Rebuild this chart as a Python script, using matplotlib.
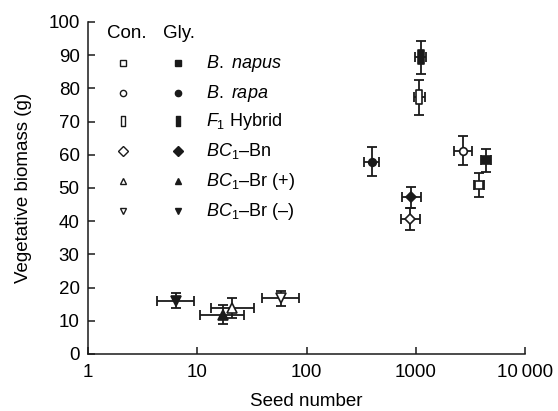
import numpy as np
import matplotlib
matplotlib.use("Agg")
import matplotlib.pyplot as plt
from matplotlib.path import Path
from matplotlib.ticker import FixedLocator, FixedFormatter, NullLocator

plt.rcParams["font.family"] = ["Liberation Sans", "DejaVu Sans"]
plt.rcParams["mathtext.fontset"] = "custom"
plt.rcParams["mathtext.rm"] = "Liberation Sans"
plt.rcParams["mathtext.it"] = "Liberation Sans:italic"

# groups: B. napus, B. rapa, F1 hybrid, BC1-Bn, BC1-Br(+), BC1-Br(-)
labels = ["$\\mathit{B.\\ napus}$", "$\\mathit{B.\\ rapa}$", "$\\mathit{F}_\\mathrm{1}$ Hybrid",
          "$\\mathit{BC}_\\mathrm{1}$\u2013Bn", "$\\mathit{BC}_\\mathrm{1}$\u2013Br (+)",
          "$\\mathit{BC}_\\mathrm{1}$\u2013Br (\u2013)"]

# control (Con.)
con_x = [3790, 2710, 1070, 890, 21, 58]
con_y = [50.9, 61.2, 77.3, 40.6, 13.9, 16.8]
con_xlo = [380, 455, 105, 150, 7.7, 19]
con_xhi = [425, 540, 145, 205, 12, 28]
con_yerr = [3.7, 4.4, 5.2, 3.3, 3.0, 2.3]

# glyphosate (Gly.)
gly_x = [4400, 395, 1110, 905, 17.1, 6.35]
gly_y = [58.3, 57.9, 89.4, 47.2, 11.8, 16.1]
gly_xlo = [440, 60, 125, 150, 6.5, 2.1]
gly_xhi = [450, 65, 125, 210, 9.9, 3.05]
gly_yerr = [3.5, 4.3, 5.0, 3.1, 2.9, 2.2]

xticks = [1, 10, 100, 1000, 10000]
xticklabels = ["1", "10", "100", "1000", "10\u2009000"]

tall_rect = Path([(-0.4, -1), (0.4, -1), (0.4, 1), (-0.4, 1), (-0.4, -1)],
                 [Path.MOVETO, Path.LINETO, Path.LINETO, Path.LINETO, Path.CLOSEPOLY])
markers = ["s", "o", tall_rect, "D", "^", "v"]
sizes = [5.5, 5.5, 10, 5.5, 6.5, 6.5]
leg_sizes = [4.5, 4.5, 7, 5, 5, 5]

ink = "#1a1a1a"
fs = 13.5

fig = plt.figure(figsize=(5.58, 4.11), dpi=100)
ax = fig.add_axes([0.1577, 0.1387, 0.7832, 0.8078])

for xs, ys, xlo, xhi, ye, face in [(con_x, con_y, con_xlo, con_xhi, con_yerr, "white"),
                                   (gly_x, gly_y, gly_xlo, gly_xhi, gly_yerr, ink)]:
    for i in range(len(xs)):
        ax.errorbar([xs[i]], [ys[i]], xerr=[[xlo[i]], [xhi[i]]], yerr=[ye[i]],
                    fmt="none", ecolor=ink, elinewidth=1.3, capsize=3.5, capthick=1.3, zorder=2)
        ax.plot([xs[i]], [ys[i]], marker=markers[i], ms=sizes[i], mfc=face, mec=ink,
                mew=1.2, ls="none", zorder=3)

ax.set_xscale("log")
ax.set_xlim(1, 10000)
ax.set_ylim(0, 100)
ax.xaxis.set_major_locator(FixedLocator(xticks))
ax.xaxis.set_major_formatter(FixedFormatter(xticklabels))
ax.xaxis.set_minor_locator(NullLocator())
ax.set_yticks(np.arange(0, 101, 10))

for s in ["top", "right"]:
    ax.spines[s].set_visible(False)
for s in ["left", "bottom"]:
    ax.spines[s].set_linewidth(1.1)
    ax.spines[s].set_color(ink)
ax.tick_params(direction="in", length=5, width=1.1, labelsize=fs, color=ink)
ax.tick_params(axis="x", pad=7)
ax.tick_params(axis="y", pad=6)
ax.set_xlabel("Seed number", fontsize=fs, labelpad=9)
ax.set_ylabel("Vegetative biomass (g)", fontsize=fs, labelpad=12)

# hand-made legend in pixel coordinates of the figure
def fig_xy(px, py):
    return px / 558, 1 - py / 411

fig.text(*fig_xy(107, 33), "Con.", fontsize=fs, va="center", ha="left")
fig.text(*fig_xy(163, 33), "Gly.", fontsize=fs, va="center", ha="left")
row_y = [63, 93, 121, 151, 181, 211]
for i in range(6):
    for px, face in [(123, "white"), (178, ink)]:
        lx, ly = fig_xy(px, row_y[i])
        fig.lines.append(plt.Line2D([lx], [ly], transform=fig.transFigure, marker=markers[i],
                                    ms=leg_sizes[i], mfc=face, mec=ink, mew=1.0, ls="none"))
    fig.text(*fig_xy(206, row_y[i]), labels[i], fontsize=13, va="center", ha="left")

fig.savefig("out.png", dpi=100)
